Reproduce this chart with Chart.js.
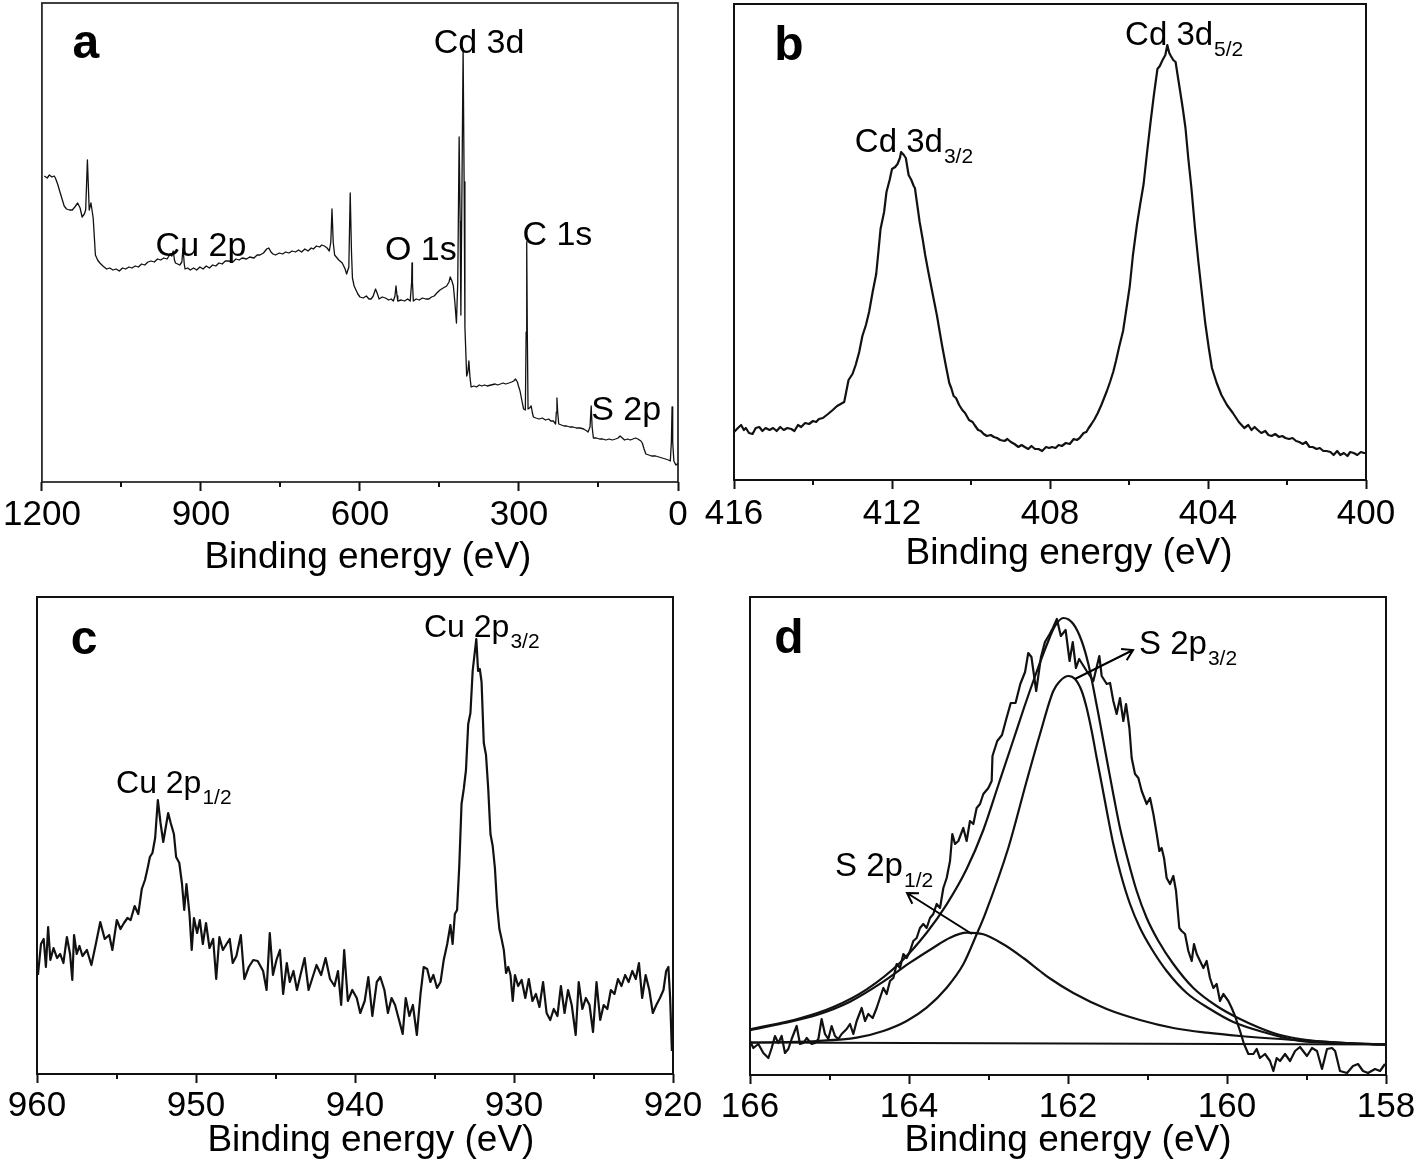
<!DOCTYPE html>
<html><head><meta charset="utf-8">
<script src="https://cdn.jsdelivr.net/npm/chart.js@4.4.1/dist/chart.umd.min.js"></script>
<style>
html,body{margin:0;padding:0;background:#fff;}
#wrap{position:relative;width:1418px;height:1176px;background:#fff;}
canvas{position:absolute;left:0;top:0;}
</style></head><body><div id="wrap">
<canvas id="ca" width="1418" height="1176"></canvas>
<canvas id="cb" width="1418" height="1176"></canvas>
<canvas id="cc" width="1418" height="1176"></canvas>
<canvas id="cd" width="1418" height="1176"></canvas>
</div>
<script>
const FONT = '"Liberation Sans", Arial, Helvetica, sans-serif';
const AXIS_TITLE = 'Binding energy (eV)';

// ---------- tick labels ----------
const aTicks = [1200, 900, 600, 300, 0];
const aMinor = [1050, 750, 450, 150];
const bTicks = [416, 412, 408, 404, 400];
const bMinor = [414, 410, 406, 402];
const cTicks = [960, 950, 940, 930, 920];
const cMinor = [955, 945, 935, 925];
const dTicks = [166, 164, 162, 160, 158];
const dMinor = [165, 163, 161, 159];

// ---------- (a) survey spectrum [binding energy eV, intensity a.u.] ----------
const surveySpectrum = [
[1195.5,306],[1190,304],[1186,307],[1181,305],[1177,306],[1174.6,304],[1170.4,298],[1166,290],[1162,283],[1158,276],
[1153.6,273],[1148,272],[1142.7,272],[1138,275],[1132.6,279],[1128,274],[1124.2,265],[1120,268],[1117.5,272],[1114.2,322],
[1110.8,272],[1107.5,279],[1103.3,264],[1099.1,227],[1095,222],[1090.7,219],[1085,216],[1078,213],[1072,214],[1066,212],
[1060,213],[1054,211],[1048,214],[1042,213],[1036,215],[1030,214],[1024,216],[1018,215],[1012,218],[1006,217],
[1000,220],[994,221],[988,220],[982,223],[976,222],[970,224],[964,223],[958,228],[955,226],[952.3,231],
[950,222],[948,219],[944,218],[940,217],[936,220],[933.8,234],[931.5,218],[930,213],[925,214],[920,212],
[914,214],[908,212],[902,215],[896,213],[890,216],[884,214],[878,217],[872,216],[866,219],[860,218],
[854,221],[847.5,221],[840,220],[834,223],[828,222],[822,224],[814,223],[808,225],[800,224],[794,227],
[788.7,227],[782,229],[776,233],[772,234],[768,230],[764,228],[759.4,227],[752,229],[746,228],[740,230],
[734,229],[728,231],[721.6,230],[716,232],[710,230],[704,233],[698,231],[692,234],[688,233],[682,236],
[676,235],[672,237],[667,236],[662,234],[657.8,231],[655,240],[652.8,273],[650.5,240],[647.8,227],[640,222],
[633.5,219],[628,213],[625.2,208],[621,215],[618.4,289],[616,230],[614.2,204],[611,196],[608.4,193],[604,188],
[600,185],[594,184],[588,186],[583,183],[579,183],[575,186],[570.6,193],[567,188],[563.9,183],[558,185],
[552,184],[546,182],[541,183],[537,181],[534,186],[532,196],[530,186],[528.7,181],[522,182],[516,181],
[510,183],[505.2,181],[502.5,200],[501.8,219],[501,200],[499.3,181],[494,183],[488,182],[482,184],[476,183],
[470,183],[465,185],[460,186],[455,189],[449,192],[443,194],[436.4,196],[432,200],[429.7,205],[426.5,201],
[423.8,196],[421,180],[418,159],[415.5,200],[412.9,345],[411,260],[409.6,167],[407.5,300],[405.4,433],[403.5,300],
[402,155],[398.7,106],[396.5,110],[394.5,121],[392.5,105],[390.3,95],[385,96],[380,95],[375,97],[370,96],
[365,97],[360,96],[352.6,97],[345,98],[340,97],[335,98],[330,99],[325,98],[319,99],[314,100],
[310,101],[306.4,103],[303,100],[301,96],[298,91],[294,80],[291.3,73],[288,72],[286.5,150],[285.4,240],
[284.3,150],[282.9,73],[280,74],[277,76],[275,70],[272.8,65],[268,64],[262,63],[256,64],[250,62],
[244,63],[240,61],[235.1,61],[230.9,58],[229.5,70],[228.4,84],[227,70],[225,58],[220,57],[215,56],
[210,56],[204,55],[198,55],[192,54],[184.8,54],[178,53],[172,51],[169.7,50],[166,55],[163.8,76],
[162,55],[159.6,44],[154,44],[148,43],[142,43],[136,42],[130,43],[124,42],[117.7,43],[113,44],
[109.3,46],[105,44],[100.9,42],[95,43],[90,42],[85,43],[80,44],[75.7,43],[70,41],[67.4,39],
[64,33],[60.6,28],[55,27],[50,26],[45,26],[42.2,26],[36,25],[30,24],[23.7,23],[18,22],
[14.5,21],[12.5,40],[11.2,75],[10,40],[7.8,21],[5,18],[3.6,17],[1.5,18],[0.2,19]
];

// ---------- (b) Cd 3d ----------
const cd3dSpectrum = [
[416.0,48],[415.9,52],[415.82,55],[415.75,50],[415.7,52],[415.62,47],[415.53,46],[415.45,52],[415.36,53],[415.28,49],
[415.2,52],[415.1,50],[415.01,52],[414.92,49],[414.83,53],[414.74,50],[414.65,52],[414.55,51],[414.47,49],[414.38,55],
[414.3,53],[414.2,57],[414.1,56],[414.0,59],[413.92,58],[413.85,61],[413.75,62],[413.62,66],[413.5,70],[413.39,74],
[413.3,76],[413.21,78],[413.1,100],[413.0,106],[412.92,115],[412.83,128],[412.75,144],[412.66,155],[412.58,168],[412.49,188],
[412.4,206],[412.34,230],[412.29,251],[412.2,268],[412.14,288],[412.06,300],[412.0,311],[411.92,313],[411.86,316],[411.8,322],
[411.77,328],[411.7,325],[411.65,322],[411.58,305],[411.51,300],[411.45,294],[411.42,292],[411.36,275],[411.3,258],[411.22,240],
[411.16,225],[411.08,208],[411.01,194],[410.93,178],[410.86,164],[410.8,150],[410.73,134],[410.64,115],[410.55,97],[410.5,92],
[410.44,84],[410.38,82],[410.3,75],[410.22,70],[410.15,67],[410.05,60],[409.96,58],[409.91,55],[409.82,50],[409.75,49],
[409.68,46],[409.6,44],[409.5,45],[409.42,43],[409.34,42],[409.26,40],[409.15,39],[409.08,41],[408.99,38],[408.9,36],
[408.8,33],[408.72,35],[408.64,33],[408.55,31],[408.47,34],[408.38,31],[408.29,31],[408.2,29],[408.1,33],[408.02,32],
[407.95,33],[407.86,32],[407.78,35],[407.7,34],[407.6,37],[407.5,36],[407.4,41],[407.32,40],[407.25,42],[407.15,47],
[407.08,48],[407.02,52],[406.95,56],[406.87,61],[406.79,67],[406.7,75],[406.63,82],[406.56,89],[406.48,98],[406.4,108],
[406.33,119],[406.25,133],[406.15,149],[406.07,170],[405.98,194],[405.9,225],[405.8,255],[405.72,275],[405.63,296],[405.55,325],
[405.46,356],[405.37,385],[405.28,411],[405.22,414],[405.15,420],[405.08,425],[405.03,435],[404.98,427],[404.94,424],[404.88,420],
[404.82,418],[404.77,405],[404.71,390],[404.64,372],[404.57,352],[404.5,322],[404.42,292],[404.33,252],[404.24,217],[404.15,185],
[404.07,157],[403.98,132],[403.9,112],[403.78,97],[403.66,85],[403.52,75],[403.37,67],[403.22,58],[403.08,52],[402.98,55],
[402.9,50],[402.82,53],[402.74,50],[402.65,47],[402.55,49],[402.47,45],[402.39,44],[402.3,46],[402.2,43],[402.12,44],
[402.04,42],[401.95,41],[401.86,42],[401.77,39],[401.69,38],[401.6,36],[401.52,38],[401.43,33],[401.35,33],[401.25,31],
[401.17,32],[401.08,29],[401.0,29],[400.9,28],[400.82,25],[400.73,29],[400.65,25],[400.56,27],[400.47,24],[400.4,28],
[400.31,27],[400.22,25],[400.13,28],[400.05,27],[399.98,27]
];

// ---------- (c) Cu 2p ----------
const cu2pSpectrum = [
[959.94,99],[959.75,130],[959.58,135],[959.44,107],[959.3,147],[959.16,114],[958.96,126],[958.74,116],[958.54,120],[958.34,111],
[958.12,137],[957.92,120],[957.78,94],[957.67,139],[957.5,120],[957.33,128],[957.14,118],[956.86,124],[956.58,109],[956.3,130],
[956.02,152],[955.74,135],[955.46,139],[955.26,124],[954.98,154],[954.75,145],[954.53,151],[954.31,156],[954.11,154],[953.86,168],
[953.63,160],[953.41,185],[953.21,194],[953.04,206],[952.9,217],[952.74,221],[952.57,236],[952.4,274],[952.23,251],[952.06,232],
[951.9,247],[951.75,261],[951.59,251],[951.39,240],[951.25,217],[951.05,211],[950.88,190],[950.74,164],[950.6,190],[950.41,160],
[950.27,124],[950.13,156],[949.93,141],[949.76,154],[949.57,130],[949.37,151],[949.15,126],[948.92,135],[948.73,95],[948.53,137],
[948.31,124],[948.08,130],[947.88,135],[947.69,111],[947.46,118],[947.18,139],[946.96,95],[946.68,107],[946.4,114],[946.12,113],
[945.78,103],[945.56,84],[945.36,141],[945.16,99],[944.94,114],[944.72,124],[944.52,80],[944.29,111],[944.1,92],[943.87,103],
[943.65,84],[943.43,99],[943.17,116],[942.92,84],[942.7,95],[942.42,109],[942.13,99],[941.85,116],[941.57,95],[941.29,88],
[941.07,103],[940.87,69],[940.68,124],[940.45,73],[940.17,84],[939.89,76],[939.67,61],[939.39,73],[939.16,97],[938.91,58],
[938.63,92],[938.41,97],[938.15,84],[937.93,61],[937.7,76],[937.48,69],[937.23,54],[937.0,40],[936.81,76],[936.58,58],
[936.36,69],[936.11,39],[935.88,80],[935.68,107],[935.46,105],[935.26,92],[935.07,99],[934.84,86],[934.62,92],[934.42,114],
[934.2,130],[934.0,149],[933.86,130],[933.72,160],[933.58,164],[933.44,209],[933.3,270],[933.16,285],[933.02,304],[932.88,350],
[932.74,361],[932.6,403],[932.48,420],[932.37,435],[932.26,403],[932.15,405],[932.04,392],[931.9,331],[931.76,319],[931.62,285],
[931.48,240],[931.34,228],[931.2,206],[931.06,168],[930.92,145],[930.78,135],[930.64,124],[930.5,101],[930.36,107],[930.22,99],
[930.08,73],[929.94,99],[929.74,88],[929.52,94],[929.29,76],[929.07,95],[928.84,73],[928.62,80],[928.4,67],[928.17,92],
[927.95,61],[927.72,54],[927.5,65],[927.27,58],[927.05,88],[926.82,61],[926.6,84],[926.37,69],[926.12,39],[925.93,92],
[925.7,65],[925.48,76],[925.25,69],[925.03,42],[924.81,92],[924.58,54],[924.36,69],[924.13,65],[923.91,84],[923.68,80],
[923.46,95],[923.24,88],[923.01,99],[922.79,92],[922.56,103],[922.34,95],[922.14,111],[921.94,76],[921.72,99],[921.49,84],
[921.27,61],[921.05,69],[920.82,76],[920.6,84],[920.43,103],[920.29,107],[920.18,76],[920.07,23]
];

// ---------- (d) S 2p: measured data ----------
const s2pRaw = [
[166.0,34],[165.958,27],[165.895,31],[165.832,22],[165.769,17],[165.727,27],[165.686,39],[165.644,32],[165.602,39],[165.56,22],
[165.518,26],[165.476,36],[165.413,49],[165.371,31],[165.329,32],[165.287,37],[165.224,31],[165.182,32],[165.14,36],[165.099,56],
[165.057,41],[165.015,36],[164.973,49],[164.931,39],[164.889,36],[164.847,41],[164.784,46],[164.742,51],[164.7,41],[164.658,54],
[164.595,67],[164.553,54],[164.512,61],[164.457,57],[164.407,67],[164.323,87],[164.281,81],[164.239,94],[164.197,97],[164.155,111],
[164.113,107],[164.071,121],[164.029,117],[163.987,124],[163.946,134],[163.904,137],[163.862,147],[163.82,151],[163.778,147],[163.736,157],
[163.694,161],[163.652,171],[163.61,167],[163.568,187],[163.526,197],[163.484,214],[163.455,241],[163.421,231],[163.379,234],[163.317,247],
[163.275,234],[163.233,254],[163.191,251],[163.149,267],[163.107,271],[163.065,281],[163.002,287],[162.96,294],[162.95,319],[162.89,334],
[162.83,340],[162.78,355],[162.72,372],[162.66,372],[162.60,391],[162.54,403],[162.50,422],[162.46,418],[162.40,384],[162.34,418],
[162.29,433],[162.23,441],[162.19,447],[162.14,456],[162.09,439],[162.03,445],[161.98,414],[161.94,433],[161.90,407],[161.86,416],
[161.765,404],[161.681,394],[161.606,419],[161.576,399],[161.513,391],[161.471,392],[161.43,374],[161.388,361],[161.346,377],[161.304,354],
[161.27,371],[161.228,347],[161.199,317],[161.157,301],[161.115,297],[161.073,284],[161.01,271],[160.968,277],[160.926,261],[160.884,241],
[160.851,224],[160.822,227],[160.792,217],[160.759,197],[160.717,191],[160.675,199],[160.641,184],[160.6,147],[160.57,144],[160.528,141],
[160.486,124],[160.444,114],[160.415,131],[160.381,121],[160.339,114],[160.297,107],[160.256,114],[160.214,97],[160.172,87],[160.13,91],
[160.088,74],[160.046,81],[159.983,74],[159.941,67],[159.899,59],[159.836,44],[159.786,31],[159.731,21],[159.668,21],[159.627,26],
[159.585,17],[159.522,21],[159.459,14],[159.417,4],[159.375,17],[159.333,14],[159.27,21],[159.207,14],[159.144,24],[159.082,28],
[158.994,19],[158.931,27],[158.868,24],[158.805,6],[158.742,26],[158.679,27],[158.64,24],[158.579,4],[158.49,2],[158.415,9],
[158.352,11],[158.289,4],[158.226,2],[158.138,6],[158.075,4],[158.013,11]
];
// ---------- (d) fitted curves ----------
const s2pEnvelope = [
[166.0,45.7],[165.371,56.7],[164.952,68],[164.532,85.7],[164.113,112.3],[163.778,142.3],[163.526,170.7],[163.275,206],[163.065,245],[162.876,290],
[162.7,332],[162.55,368],[162.4,402],[162.268,430],[162.163,449],[162.058,457],[161.933,451],[161.828,434],[161.744,411],[161.681,387],
[161.618,361],[161.555,334],[161.492,307],[161.421,277],[161.346,247],[161.253,217],[161.136,184],[161.01,157],[160.863,134],[160.675,111],
[160.423,87],[160.13,69],[159.836,56],[159.417,42],[159.082,36],[158.5,32],[158.0,30.5]
];
const s2p32Fit = [
[166.0,32.3],[165.161,34],[164.658,37.3],[164.323,44],[164.029,54],[163.778,67.3],[163.526,87.3],[163.317,110.7],[163.149,140.7],[163.044,160.7],
[162.75,227.3],[162.52,294],[162.352,341],[162.185,384],[162.1,394],[161.996,399],[161.912,396],[161.828,384],[161.765,367],[161.702,344],
[161.639,317],[161.576,291],[161.505,261],[161.43,231],[161.337,201],[161.22,171],[161.094,147],[160.947,126],[160.759,104],[160.507,82],
[160.214,66],[159.92,53],[159.501,42],[159.082,34],[158.5,31.5],[158.0,30.5]
];
const s2p12Fit = [
[166.0,44.7],[165.581,51.7],[165.161,60],[164.742,73.3],[164.323,93.3],[163.987,112.3],[163.694,127.3],[163.484,137.3],[163.275,142.3],[163.065,140.7],
[162.813,130.7],[162.562,117],[162.352,104],[162.226,96.5],[161.933,82],[161.513,66],[161.094,55],[160.675,47],[160.256,42.3],[159.836,39],
[159.082,34.7],[158.5,32],[158.0,30.5]
];
const s2pBackground = [[166.0,32.5],[158.0,30.5]];

// ---------- annotations (data coordinates) ----------
const aLabels = [
  {text:'a', x:1117.2, y:424, size:48, bold:true, align:'center'},
  {text:'Cd 3d', x:460.9, y:429, size:34},
  {text:'Cu 2p', x:985.6, y:226, size:34},
  {text:'O 1s', x:553, y:222, size:34},
  {text:'C 1s', x:293.5, y:237, size:34},
  {text:'S 2p', x:163.7, y:62, size:34}
];
const bLabels = [
  {text:'b', x:414.61, y:420, size:48, bold:true, align:'center'},
  {text:'Cd 3d', sub:'5/2', x:406.1, y:435, size:33},
  {text:'Cd 3d', sub:'3/2', x:412.94, y:328, size:33}
];
const cLabels = [
  {text:'c', x:957.04, y:420, size:48, bold:true, align:'center'},
  {text:'Cu 2p', sub:'3/2', x:935.66, y:437, size:32},
  {text:'Cu 2p', sub:'1/2', x:955.03, y:281, size:32}
];
const dLabels = [
  {text:'d', x:165.51, y:422, size:48, bold:true, align:'center'},
  {text:'S 2p', sub:'3/2', x:161.107, y:421, size:33},
  {text:'S 2p', sub:'1/2', x:164.93, y:199, size:33}
];
const dArrows = [
  {from:[161.912,396], to:[161.182,425]},
  {from:[163.208,141], to:[164.025,182]}
];

// ---------- helpers ----------
function pts(arr){ return arr.map(p => ({x:p[0], y:p[1]})); }

const decor = {
  id:'decor',
  afterDraw(chart){
    const o = chart.options.plugins.decor;
    const ctx = chart.ctx, ca = chart.chartArea;
    const xs = chart.scales.x, ys = chart.scales.y;
    ctx.save();
    ctx.strokeStyle = '#111';
    ctx.lineWidth = o.frameWidth;
    ctx.strokeRect(ca.left, ca.top, ca.right - ca.left, ca.bottom - ca.top);
    // minor ticks
    ctx.lineWidth = 2;
    ctx.beginPath();
    o.minor.forEach(v => {
      const px = Math.round(xs.getPixelForValue(v));
      ctx.moveTo(px, ca.bottom); ctx.lineTo(px, ca.bottom + 5);
    });
    ctx.stroke();
    // labels
    ctx.fillStyle = '#000';
    ctx.textBaseline = 'alphabetic';
    o.labels.forEach(l => {
      const px = xs.getPixelForValue(l.x), py = ys.getPixelForValue(l.y);
      ctx.font = (l.bold ? 'bold ' : '') + l.size + 'px ' + FONT;
      ctx.textAlign = l.align || 'left';
      ctx.fillText(l.text, px, py);
      if (l.sub){
        const w = ctx.measureText(l.text).width;
        ctx.font = '21px ' + FONT;
        ctx.textAlign = 'left';
        ctx.fillText(l.sub, px + w + 1, py + 11);
      }
    });
    // arrows
    ctx.strokeStyle = '#000'; ctx.lineWidth = 2;
    (o.arrows || []).forEach(a => {
      const x1 = xs.getPixelForValue(a.from[0]), y1 = ys.getPixelForValue(a.from[1]);
      const x2 = xs.getPixelForValue(a.to[0]), y2 = ys.getPixelForValue(a.to[1]);
      const ang = Math.atan2(y2 - y1, x2 - x1), h = 12, sp = 0.55;
      ctx.beginPath();
      ctx.moveTo(x1, y1); ctx.lineTo(x2, y2);
      ctx.moveTo(x2 - h*Math.cos(ang - sp), y2 - h*Math.sin(ang - sp));
      ctx.lineTo(x2, y2);
      ctx.lineTo(x2 - h*Math.cos(ang + sp), y2 - h*Math.sin(ang + sp));
      ctx.stroke();
    });
    // axis title
    ctx.font = '37px ' + FONT;
    ctx.textAlign = 'center';
    ctx.fillText(AXIS_TITLE, xs.getPixelForValue(o.titleX), ca.bottom + o.titleOffset);
    ctx.restore();
  }
};

function makePanel(id, cfg){
  const SCALE_H = 60;
  new Chart(document.getElementById(id), {
    type:'line',
    data:{ datasets: cfg.series.map(s => ({
      data: pts(s.data), borderColor:'#111', borderWidth:s.width, pointRadius:0,
      fill:false, tension:0, cubicInterpolationMode: s.smooth ? 'monotone' : 'default',
      borderJoinStyle:'round'
    })) },
    options:{
      responsive:false, animation:false, events:[],
      layout:{ padding:{ left:cfg.L, right:1418 - cfg.R, top:cfg.T, bottom:1176 - cfg.B - SCALE_H } },
      plugins:{ legend:{display:false}, tooltip:{enabled:false},
        decor:{ frameWidth:cfg.frameWidth, minor:cfg.minor, labels:cfg.labels, arrows:cfg.arrows,
                titleX:cfg.titleX, titleOffset:cfg.titleOffset } },
      scales:{
        x:{ type:'linear', reverse:true, min:cfg.xMin, max:cfg.xMax,
            afterBuildTicks: sc => { sc.ticks = cfg.ticks.map(v => ({value:v})); },
            afterFit: sc => { sc.height = SCALE_H; },
            ticks:{ font:{family:FONT, size:35}, color:'#000', padding:cfg.tickPad, maxRotation:0, autoSkip:false,
                    callback: v => String(v) },
            grid:{ display:true, drawOnChartArea:false, drawTicks:true, tickLength:9, tickWidth:2, tickColor:'#111', color:'#111' },
            border:{ display:false }
        },
        y:{ display:false, min:0, max:cfg.yMax }
      }
    },
    plugins:[decor]
  });
}

makePanel('ca', { L:40, R:678, T:3, B:482, xMin:0, xMax:1200, ticks:aTicks, minor:aMinor, yMax:479,
  tickPad:3, frameWidth:1.6, labels:aLabels, titleX:585, titleOffset:86,
  series:[{data:surveySpectrum, width:1.3}] });
makePanel('cb', { L:734, R:1366, T:4, B:480, xMin:400, xMax:416, ticks:bTicks, minor:bMinor, yMax:476,
  tickPad:4, frameWidth:2, labels:bLabels, titleX:407.52, titleOffset:84,
  series:[{data:cd3dSpectrum, width:2.2}] });
makePanel('cc', { L:37, R:673, T:597, B:1074, xMin:920, xMax:960, ticks:cTicks, minor:cMinor, yMax:477,
  tickPad:2, frameWidth:2, labels:cLabels, titleX:939, titleOffset:77,
  series:[{data:cu2pSpectrum, width:2.2}] });
makePanel('cd', { L:750, R:1386, T:597, B:1075, xMin:158, xMax:166, ticks:dTicks, minor:dMinor, yMax:478,
  tickPad:2, frameWidth:2, labels:dLabels, arrows:dArrows, titleX:162.0, titleOffset:76,
  series:[
    {data:s2pRaw, width:2.2},
    {data:s2pEnvelope, width:2.2, smooth:true},
    {data:s2p32Fit, width:2.2, smooth:true},
    {data:s2p12Fit, width:2.2, smooth:true},
    {data:s2pBackground, width:2.2}
  ] });
</script>
</body></html>
